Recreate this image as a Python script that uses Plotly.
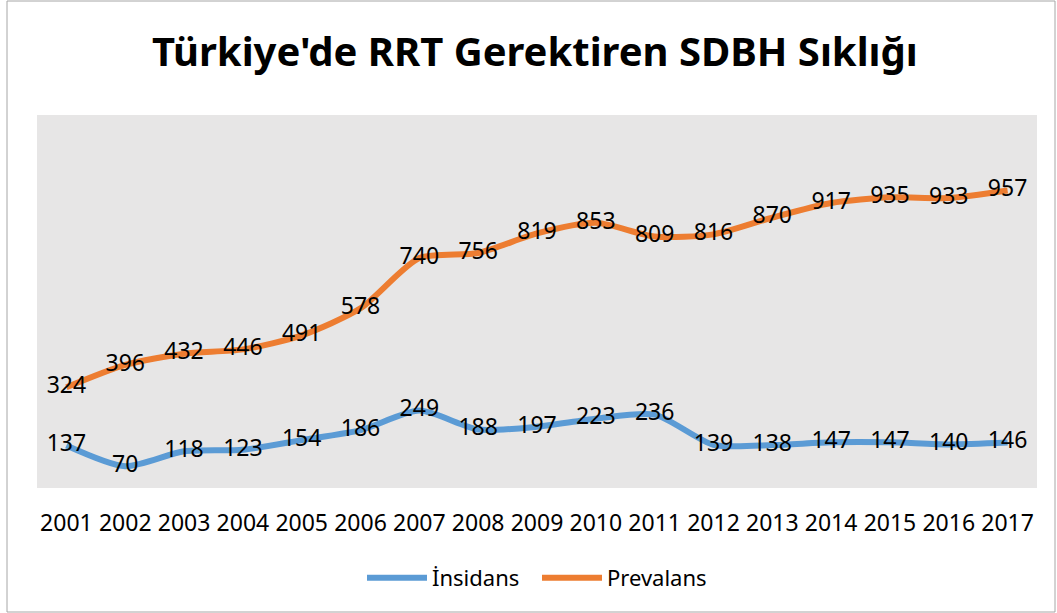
import plotly.graph_objects as go

years = [str(y) for y in range(2001, 2018)]
insidans = [137, 70, 118, 123, 154, 186, 249, 188, 197, 223, 236, 139, 138, 147, 147, 140, 146]
prevalans = [324, 396, 432, 446, 491, 578, 740, 756, 819, 853, 809, 816, 870, 917, 935, 933, 957]

FONT = "Noto Sans"

fig = go.Figure()
fig.add_trace(go.Scatter(
    x=years, y=insidans, name="İnsidans", mode="lines+text",
    line=dict(color="#5B9BD5", width=6, shape="spline", smoothing=0.7),
    text=[str(v) for v in insidans], textposition="middle center",
    textfont=dict(family=FONT, size=23, color="#000000"),
    hoverinfo="skip",
))
fig.add_trace(go.Scatter(
    x=years, y=prevalans, name="Prevalans", mode="lines+text",
    line=dict(color="#ED7D31", width=6, shape="spline", smoothing=0.7),
    text=[str(v) for v in prevalans], textposition="middle center",
    textfont=dict(family=FONT, size=23, color="#000000"),
    hoverinfo="skip",
))

fig.update_layout(
    width=1057, height=613,
    margin=dict(l=37, r=20, t=115, b=125),
    paper_bgcolor="#FFFFFF", plot_bgcolor="#E7E6E6",
    title=dict(text="<b>Türkiye'de RRT Gerektiren SDBH Sıklığı</b>",
               x=0.506, xanchor="center", y=1 - 52 / 613, yanchor="middle",
               font=dict(family=FONT, size=40, color="#000000")),
    xaxis=dict(type="category", range=[-0.5, len(years) - 0.5],
               showgrid=False, zeroline=False, showline=False, ticks="",
               tickfont=dict(family=FONT, size=23, color="#000000"),
               ticklabelstandoff=19, fixedrange=True),
    yaxis=dict(range=[0, 1200], showgrid=False, zeroline=False, showline=False,
               showticklabels=False, ticks="", fixedrange=True),
    legend=dict(orientation="h", x=0.5, xanchor="center", y=-0.241, yanchor="middle",
                font=dict(family=FONT, size=22, color="#000000"),
                itemwidth=60, tracegroupgap=0, entrywidth=100),
    showlegend=True,
)

fig.add_shape(type="rect", xref="paper", yref="paper",
              x0=(7 - 37) / 1000, x1=(1055 - 37) / 1000,
              y0=(488 - 612) / 373, y1=(488 - 1) / 373,
              line=dict(color="#A6A6A6", width=1), fillcolor="rgba(0,0,0,0)", layer="below")

fig.write_html("out.html", config={"displayModeBar": False},
               post_script="document.body.style.margin='0';document.body.style.overflow='hidden';")
